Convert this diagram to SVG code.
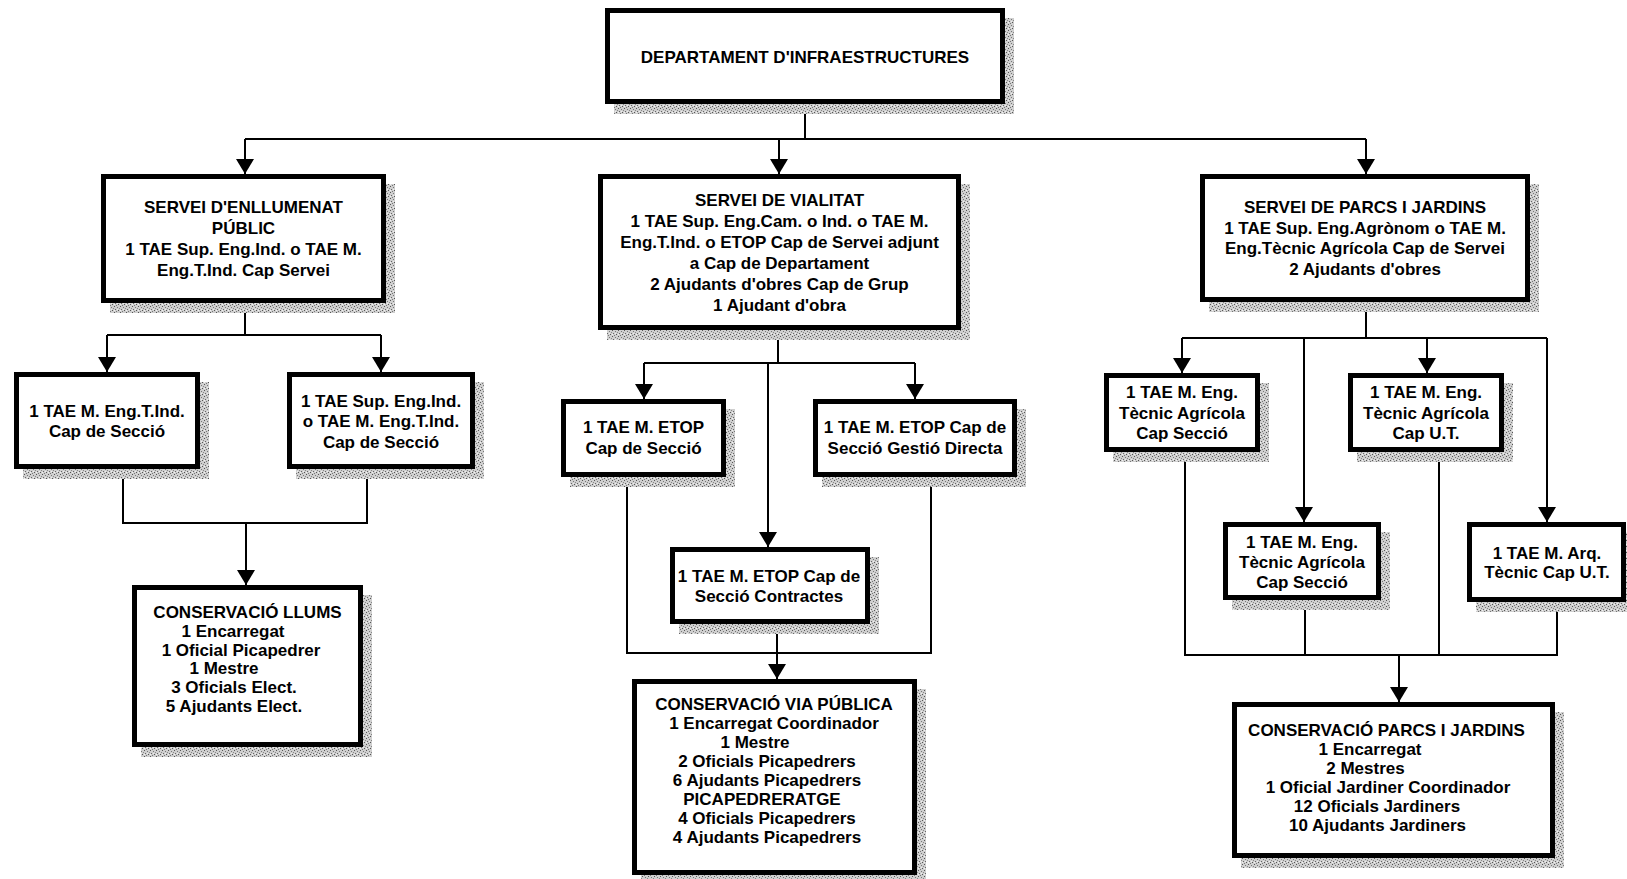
<svg xmlns="http://www.w3.org/2000/svg" width="1627" height="879" viewBox="0 0 1627 879">
<style>
.box{fill:#fff;stroke:#000;stroke-width:5}
.sh{fill:url(#dots)}
.t{font-family:"Liberation Sans",Arial,sans-serif;font-weight:bold;font-size:17px;text-anchor:middle;fill:#000}
.c{fill:none;stroke:#000;stroke-width:2}
.a{marker-end:url(#arr)}
</style>
<defs>
<pattern id="dots" width="6" height="6" patternUnits="userSpaceOnUse">
<rect width="6" height="6" fill="#cfcfcf"/>
<rect x="0" y="0" width="1" height="1" fill="#555"/>
<rect x="3" y="1" width="1" height="1" fill="#777"/>
<rect x="1" y="3" width="1" height="1" fill="#666"/>
<rect x="4" y="4" width="1" height="1" fill="#555"/>
<rect x="5" y="2" width="1" height="1" fill="#888"/>
<rect x="2" y="5" width="1" height="1" fill="#777"/>
<rect x="3" y="3" width="1" height="1" fill="#eee"/>
<rect x="0" y="4" width="1" height="1" fill="#f2f2f2"/>
</pattern>
<marker id="arr" viewBox="0 0 15 18" refX="15" refY="9" markerWidth="15" markerHeight="18" orient="auto" markerUnits="userSpaceOnUse">
<path d="M0,0 L15,9 L0,18 z" fill="#000"/>
</marker>
</defs>
<rect width="1627" height="879" fill="#fff"/>
<g id="connectors">
<path class="c" d="M805,104 V139 M245,139 H1366"/>
<path class="c a" d="M245,139 V174"/>
<path class="c a" d="M779,139 V174"/>
<path class="c a" d="M1366,139 V174"/>
<path class="c" d="M245,303 V335 M107,335 H381"/>
<path class="c a" d="M107,335 V372"/>
<path class="c a" d="M381,335 V372"/>
<path class="c" d="M123,469 V523 H367 V469"/>
<path class="c a" d="M246,523 V585"/>
<path class="c" d="M778,330 V363 M644,363 H915"/>
<path class="c a" d="M644,363 V399"/>
<path class="c a" d="M915,363 V399"/>
<path class="c a" d="M768,363 V547"/>
<path class="c" d="M627,477 V653 H931 V477"/>
<path class="c a" d="M777,624 V679"/>
<path class="c" d="M1366,302 V338 M1182,338 H1547"/>
<path class="c a" d="M1182,338 V373"/>
<path class="c a" d="M1427,338 V373"/>
<path class="c a" d="M1304,338 V522"/>
<path class="c a" d="M1547,338 V522"/>
<path class="c" d="M1185,452 V655 H1557 V602 M1305,600 V655 M1439,452 V655"/>
<path class="c a" d="M1399,655 V702"/>
</g>
<g id="dept">
<rect class="sh" x="614" y="18" width="400" height="96"/>
<rect class="box" x="607.5" y="10.5" width="395" height="91"/>
<text class="t" x="805" y="63">DEPARTAMENT D'INFRAESTRUCTURES</text>
</g>
<g id="enllumenat">
<rect class="sh" x="110" y="184" width="285" height="129"/>
<rect class="box" x="103.5" y="176.5" width="280" height="124"/>
<text class="t" x="243.5" y="213">SERVEI D'ENLLUMENAT</text>
<text class="t" x="243.5" y="234">PÚBLIC</text>
<text class="t" x="243.5" y="255">1 TAE Sup. Eng.Ind. o TAE M.</text>
<text class="t" x="243.5" y="276">Eng.T.Ind. Cap Servei</text>
</g>
<g id="vialitat">
<rect class="sh" x="607" y="184" width="363" height="156"/>
<rect class="box" x="600.5" y="176.5" width="358" height="151"/>
<text class="t" x="779.5" y="206">SERVEI DE VIALITAT</text>
<text class="t" x="779.5" y="227">1 TAE Sup. Eng.Cam. o Ind. o TAE M.</text>
<text class="t" x="779.5" y="248">Eng.T.Ind. o ETOP Cap de Servei adjunt</text>
<text class="t" x="779.5" y="269">a Cap de Departament</text>
<text class="t" x="779.5" y="290">2 Ajudants d'obres Cap de Grup</text>
<text class="t" x="779.5" y="311">1 Ajudant d'obra</text>
</g>
<g id="parcs">
<rect class="sh" x="1209" y="184" width="330" height="128"/>
<rect class="box" x="1202.5" y="176.5" width="325" height="123"/>
<text class="t" x="1365" y="213">SERVEI DE PARCS I JARDINS</text>
<text class="t" x="1365" y="233.5">1 TAE Sup. Eng.Agrònom o TAE M.</text>
<text class="t" x="1365" y="254">Eng.Tècnic Agrícola Cap de Servei</text>
<text class="t" x="1365" y="275">2 Ajudants d'obres</text>
</g>
<g id="enll-seccio-1">
<rect class="sh" x="23" y="382" width="186" height="97"/>
<rect class="box" x="16.5" y="374.5" width="181" height="92"/>
<text class="t" x="107" y="417">1 TAE M. Eng.T.Ind.</text>
<text class="t" x="107" y="437">Cap de Secció</text>
</g>
<g id="enll-seccio-2">
<rect class="sh" x="296" y="382" width="188" height="97"/>
<rect class="box" x="289.5" y="374.5" width="183" height="92"/>
<text class="t" x="381" y="407">1 TAE Sup. Eng.Ind.</text>
<text class="t" x="381" y="427">o TAE M. Eng.T.Ind.</text>
<text class="t" x="381" y="448">Cap de Secció</text>
</g>
<g id="conservacio-llums">
<rect class="sh" x="141" y="595" width="231" height="162"/>
<rect class="box" x="134.5" y="587.5" width="226" height="157"/>
<text class="t" x="247.5" y="618">CONSERVACIÓ LLUMS</text>
<text class="t" x="233" y="637">1 Encarregat</text>
<text class="t" x="241" y="655.5">1 Oficial Picapedrer</text>
<text class="t" x="224" y="674">1 Mestre</text>
<text class="t" x="234" y="693">3 Oficials Elect.</text>
<text class="t" x="234" y="711.5">5 Ajudants Elect.</text>
</g>
<g id="vial-etop">
<rect class="sh" x="570" y="409" width="165" height="78"/>
<rect class="box" x="563.5" y="401.5" width="160" height="73"/>
<text class="t" x="643.5" y="433">1 TAE M. ETOP</text>
<text class="t" x="643.5" y="454">Cap de Secció</text>
</g>
<g id="vial-gestio">
<rect class="sh" x="822" y="409" width="204" height="78"/>
<rect class="box" x="815.5" y="401.5" width="199" height="73"/>
<text class="t" x="915" y="433">1 TAE M. ETOP Cap de</text>
<text class="t" x="915" y="454">Secció Gestió Directa</text>
</g>
<g id="vial-contractes">
<rect class="sh" x="679" y="557" width="200" height="77"/>
<rect class="box" x="672.5" y="549.5" width="195" height="72"/>
<text class="t" x="769" y="582">1 TAE M. ETOP Cap de</text>
<text class="t" x="769" y="602">Secció Contractes</text>
</g>
<g id="conservacio-via">
<rect class="sh" x="641" y="689" width="285" height="196"/>
<rect class="box" x="634.5" y="681.5" width="280" height="191"/>
<text class="t" x="774" y="710">CONSERVACIÓ VIA PÚBLICA</text>
<text class="t" x="774" y="729">1 Encarregat Coordinador</text>
<text class="t" x="755" y="748">1 Mestre</text>
<text class="t" x="767" y="767">2 Oficials Picapedrers</text>
<text class="t" x="767" y="786">6 Ajudants Picapedrers</text>
<text class="t" x="762" y="805">PICAPEDRERATGE</text>
<text class="t" x="767" y="824">4 Oficials Picapedrers</text>
<text class="t" x="767" y="843">4 Ajudants Picapedrers</text>
</g>
<g id="parcs-seccio">
<rect class="sh" x="1113" y="383" width="156" height="79"/>
<rect class="box" x="1106.5" y="375.5" width="151" height="74"/>
<text class="t" x="1182" y="398">1 TAE M. Eng.</text>
<text class="t" x="1182" y="419">Tècnic Agrícola</text>
<text class="t" x="1182" y="439">Cap Secció</text>
</g>
<g id="parcs-ut">
<rect class="sh" x="1357" y="383" width="156" height="79"/>
<rect class="box" x="1350.5" y="375.5" width="151" height="74"/>
<text class="t" x="1426" y="398">1 TAE M. Eng.</text>
<text class="t" x="1426" y="419">Tècnic Agrícola</text>
<text class="t" x="1426" y="439">Cap U.T.</text>
</g>
<g id="parcs-seccio-2">
<rect class="sh" x="1232" y="532" width="158" height="78"/>
<rect class="box" x="1225.5" y="524.5" width="153" height="73"/>
<text class="t" x="1302" y="548">1 TAE M. Eng.</text>
<text class="t" x="1302" y="568">Tècnic Agrícola</text>
<text class="t" x="1302" y="588">Cap Secció</text>
</g>
<g id="parcs-arq">
<rect class="sh" x="1476" y="532" width="159" height="80"/>
<rect class="box" x="1469.5" y="524.5" width="154" height="75"/>
<text class="t" x="1547" y="559">1 TAE M. Arq.</text>
<text class="t" x="1547" y="578">Tècnic Cap U.T.</text>
</g>
<g id="conservacio-parcs">
<rect class="sh" x="1241" y="712" width="323" height="156"/>
<rect class="box" x="1234.5" y="704.5" width="318" height="151"/>
<text class="t" x="1386.5" y="736">CONSERVACIÓ PARCS I JARDINS</text>
<text class="t" x="1370" y="755">1 Encarregat</text>
<text class="t" x="1365.5" y="774">2 Mestres</text>
<text class="t" x="1388" y="793">1 Oficial Jardiner Coordinador</text>
<text class="t" x="1377" y="812">12 Oficials Jardiners</text>
<text class="t" x="1377.5" y="831">10 Ajudants Jardiners</text>
</g>
</svg>
